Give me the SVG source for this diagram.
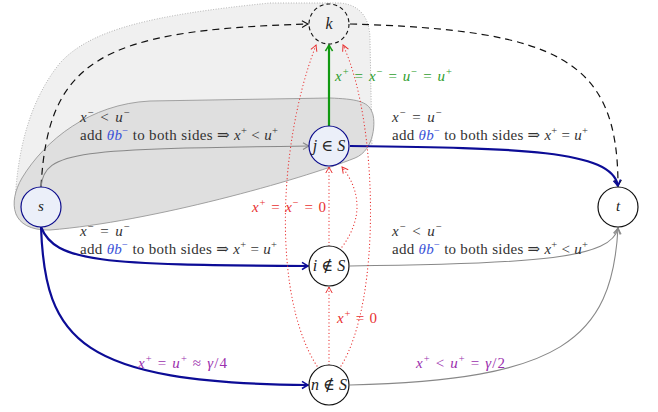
<svg xmlns="http://www.w3.org/2000/svg" width="658" height="412" viewBox="0 0 658 412">
<style>
.lbl{font-family:"Liberation Serif","DejaVu Serif",serif;font-size:15px;fill:#333}
.m{font-style:italic}
.sup{font-size:10.5px}
.blue{fill:#3a52d8}
.red{fill:#e83030}
.grn{fill:#2e9e2e}
.pur{fill:#9b2fae}
.nl{font-family:"Liberation Serif","DejaVu Serif",serif;font-size:16px;fill:#222;text-anchor:middle}
.node{stroke-width:1.2}
.sel{fill:#ebeff9;stroke:#0c0c8c}
.uns{fill:#fff;stroke:#111}
.navy{fill:none;stroke:#0c0c96;stroke-width:2.2}
.gray{fill:none;stroke:#888;stroke-width:1.1}
.dash{fill:none;stroke:#111;stroke-width:1.2;stroke-dasharray:7,5}
.dot{fill:none;stroke:#e83030;stroke-width:1.2;stroke-dasharray:0.1,3.4;stroke-linecap:round}
</style>
<defs>
<marker id="a-gray" viewBox="-7 -5 9 10" refX="0" refY="0" markerWidth="9" markerHeight="10" orient="auto" markerUnits="userSpaceOnUse" overflow="visible"><path d="M-6,-3.4 Q-1.6,-0.8 0,0 Q-1.6,0.8 -6,3.4" fill="none" stroke="#888" stroke-width="1.1"/></marker>
<marker id="a-navy" viewBox="-7 -5 9 10" refX="0" refY="0" markerWidth="9" markerHeight="10" orient="auto" markerUnits="userSpaceOnUse" overflow="visible"><path d="M-6,-3.6 Q-1.6,-0.8 0,0 Q-1.6,0.8 -6,3.6" fill="none" stroke="#0c0c96" stroke-width="1.6"/></marker>
<marker id="a-blk" viewBox="-7 -5 9 10" refX="0" refY="0" markerWidth="9" markerHeight="10" orient="auto" markerUnits="userSpaceOnUse" overflow="visible"><path d="M-6,-3.4 Q-1.6,-0.8 0,0 Q-1.6,0.8 -6,3.4" fill="none" stroke="#111" stroke-width="1.1"/></marker>
<marker id="a-red" viewBox="-7 -5 9 10" refX="0" refY="0" markerWidth="9" markerHeight="10" orient="auto" markerUnits="userSpaceOnUse" overflow="visible"><path d="M-6,-3.2 Q-1.6,-0.8 0,0 Q-1.6,0.8 -6,3.2" fill="none" stroke="#e83030" stroke-width="1"/></marker>
<marker id="a-grn" viewBox="-7 -5 9 10" refX="0" refY="0" markerWidth="9" markerHeight="10" orient="auto" markerUnits="userSpaceOnUse" overflow="visible"><path d="M-6,-3.6 Q-1.6,-0.8 0,0 Q-1.6,0.8 -6,3.6" fill="none" stroke="#119911" stroke-width="1.6"/></marker>
</defs>

<g id="regions">
<path d="M15,205 C17,150 30,100 60,63 C90,30 150,15 270,3 L340,3 C362,5 370,20 370,40 L372,145 L15,215 Z" fill="#f0f0f0"/>
<path d="M15,205 C17,150 30,100 60,63 C90,30 150,15 270,3 L340,3 C362,5 370,20 370,40 L372,145" fill="none" stroke="#aaa" stroke-width="1" stroke-dasharray="0.1,2.5" stroke-linecap="round"/>
<path d="M50,230 C150,222 300,180 355,158 C375,150 376,120 372,112 C368,101 355,99 330,98 L150,101 C90,104 45,140 22,178 C8,202 10,231 50,230 Z" fill="#dfdfdf" stroke="#999" stroke-width="0.9"/>
</g>

<g id="connectors">
<path class="dash" d="M41,187 C48,60 100,30 308,24" marker-end="url(#a-blk)"/>
<path class="dash" d="M350,24 C560,30 618,60 618,186" marker-end="url(#a-blk)"/>
<path class="gray" d="M41,187 C44,150 80,149 309,146" marker-end="url(#a-gray)"/>
<path class="navy" d="M350,146 C520,148 612,150 618,186" marker-end="url(#a-navy)"/>
<path class="navy" d="M41,227 C55,262 100,265 308,266" marker-end="url(#a-navy)"/>
<path class="navy" d="M41,227 C45,340 80,383 308,385" marker-end="url(#a-navy)"/>
<path class="gray" d="M350,266 C540,264 612,258 618,228" marker-end="url(#a-gray)"/>
<path class="gray" d="M350,385 C560,380 612,340 618,228" marker-end="url(#a-gray)"/>
<path d="M329,126 L329,45" fill="none" stroke="#119911" stroke-width="2.2" marker-end="url(#a-grn)"/>
<path class="dot" d="M317,366 C274,300 276,150 316,45" marker-end="url(#a-red)"/>
<path class="dot" d="M341,366 C382,300 378,120 343,45" marker-end="url(#a-red)"/>
<path class="dot" d="M342,247 C362,220 362,192 342,167" marker-end="url(#a-red)"/>
<path class="dot" d="M329,365 L329,287" marker-end="url(#a-red)"/>
<path class="dot" d="M329,246 L329,167" marker-end="url(#a-red)"/>
</g>

<g id="node-k"><circle cx="329" cy="24" r="20" fill="none" stroke="#111" stroke-width="1.1" stroke-dasharray="4,3"/><text class="nl m" x="329" y="29">k</text></g>
<g id="node-j"><circle class="node sel" cx="329" cy="146" r="20"/><text class="nl" x="329" y="151"><tspan class="m">j</tspan> ∈ <tspan class="m">S</tspan></text></g>
<g id="node-s"><circle class="node sel" cx="41" cy="207" r="20"/><text class="nl m" x="41" y="211" style="font-size:15px">s</text></g>
<g id="node-t"><circle class="node uns" cx="618" cy="207" r="20"/><text class="nl m" x="618" y="211" style="font-size:15px">t</text></g>
<g id="node-i"><circle class="node uns" cx="329" cy="266" r="20"/><text class="nl" x="329" y="271"><tspan class="m">i</tspan> ∉ <tspan class="m">S</tspan></text></g>
<g id="node-n"><circle class="node uns" cx="329" cy="385" r="20"/><text class="nl" x="329" y="390"><tspan class="m">n</tspan> ∉ <tspan class="m">S</tspan></text></g>

<g id="labels">
<text class="lbl" x="80" y="122" textLength="50" lengthAdjust="spacing"><tspan class="m">x</tspan><tspan class="sup" dy="-6">−</tspan><tspan dy="6"> &lt; </tspan><tspan class="m">u</tspan><tspan class="sup" dy="-6">−</tspan></text>
<text class="lbl" x="80" y="140" textLength="198" lengthAdjust="spacing">add <tspan class="m blue">θb</tspan><tspan class="sup blue" dy="-6">−</tspan><tspan dy="6"> to both sides ⇒ </tspan><tspan class="m">x</tspan><tspan class="sup" dy="-6">+</tspan><tspan dy="6"> &lt; </tspan><tspan class="m">u</tspan><tspan class="sup" dy="-6">+</tspan></text>

<text class="lbl" x="392" y="122" textLength="50" lengthAdjust="spacing"><tspan class="m">x</tspan><tspan class="sup" dy="-6">−</tspan><tspan dy="6"> = </tspan><tspan class="m">u</tspan><tspan class="sup" dy="-6">−</tspan></text>
<text class="lbl" x="392" y="140" textLength="196" lengthAdjust="spacing">add <tspan class="m blue">θb</tspan><tspan class="sup blue" dy="-6">−</tspan><tspan dy="6"> to both sides ⇒ </tspan><tspan class="m">x</tspan><tspan class="sup" dy="-6">+</tspan><tspan dy="6"> = </tspan><tspan class="m">u</tspan><tspan class="sup" dy="-6">+</tspan></text>

<text class="lbl" x="80" y="236" textLength="50" lengthAdjust="spacing"><tspan class="m">x</tspan><tspan class="sup" dy="-6">−</tspan><tspan dy="6"> = </tspan><tspan class="m">u</tspan><tspan class="sup" dy="-6">−</tspan></text>
<text class="lbl" x="80" y="254" textLength="197" lengthAdjust="spacing">add <tspan class="m blue">θb</tspan><tspan class="sup blue" dy="-6">−</tspan><tspan dy="6"> to both sides ⇒ </tspan><tspan class="m">x</tspan><tspan class="sup" dy="-6">+</tspan><tspan dy="6"> = </tspan><tspan class="m">u</tspan><tspan class="sup" dy="-6">+</tspan></text>

<text class="lbl" x="392" y="236" textLength="50" lengthAdjust="spacing"><tspan class="m">x</tspan><tspan class="sup" dy="-6">−</tspan><tspan dy="6"> &lt; </tspan><tspan class="m">u</tspan><tspan class="sup" dy="-6">−</tspan></text>
<text class="lbl" x="392" y="254" textLength="196" lengthAdjust="spacing">add <tspan class="m blue">θb</tspan><tspan class="sup blue" dy="-6">−</tspan><tspan dy="6"> to both sides ⇒ </tspan><tspan class="m">x</tspan><tspan class="sup" dy="-6">+</tspan><tspan dy="6"> &lt; </tspan><tspan class="m">u</tspan><tspan class="sup" dy="-6">+</tspan></text>

<text class="lbl pur" x="138" y="368" textLength="89" lengthAdjust="spacing"><tspan class="m">x</tspan><tspan class="sup" dy="-6">+</tspan><tspan dy="6"> = </tspan><tspan class="m">u</tspan><tspan class="sup" dy="-6">+</tspan><tspan dy="6"> ≈ </tspan><tspan class="m">γ</tspan>/4</text>
<text class="lbl pur" x="416" y="368" textLength="89" lengthAdjust="spacing"><tspan class="m">x</tspan><tspan class="sup" dy="-6">+</tspan><tspan dy="6"> &lt; </tspan><tspan class="m">u</tspan><tspan class="sup" dy="-6">+</tspan><tspan dy="6"> = </tspan><tspan class="m">γ</tspan>/2</text>

<text class="lbl red" x="252" y="212" textLength="74" lengthAdjust="spacing"><tspan class="m">x</tspan><tspan class="sup" dy="-6">+</tspan><tspan dy="6"> = </tspan><tspan class="m">x</tspan><tspan class="sup" dy="-6">−</tspan><tspan dy="6"> = 0</tspan></text>
<text class="lbl red" x="337" y="323" textLength="40" lengthAdjust="spacing"><tspan class="m">x</tspan><tspan class="sup" dy="-6">+</tspan><tspan dy="6"> = 0</tspan></text>
<text class="lbl grn" x="335" y="81" textLength="117" lengthAdjust="spacing"><tspan class="m">x</tspan><tspan class="sup" dy="-6">+</tspan><tspan dy="6"> = </tspan><tspan class="m">x</tspan><tspan class="sup" dy="-6">−</tspan><tspan dy="6"> = </tspan><tspan class="m">u</tspan><tspan class="sup" dy="-6">−</tspan><tspan dy="6"> = </tspan><tspan class="m">u</tspan><tspan class="sup" dy="-6">+</tspan></text>
</g>
</svg>
